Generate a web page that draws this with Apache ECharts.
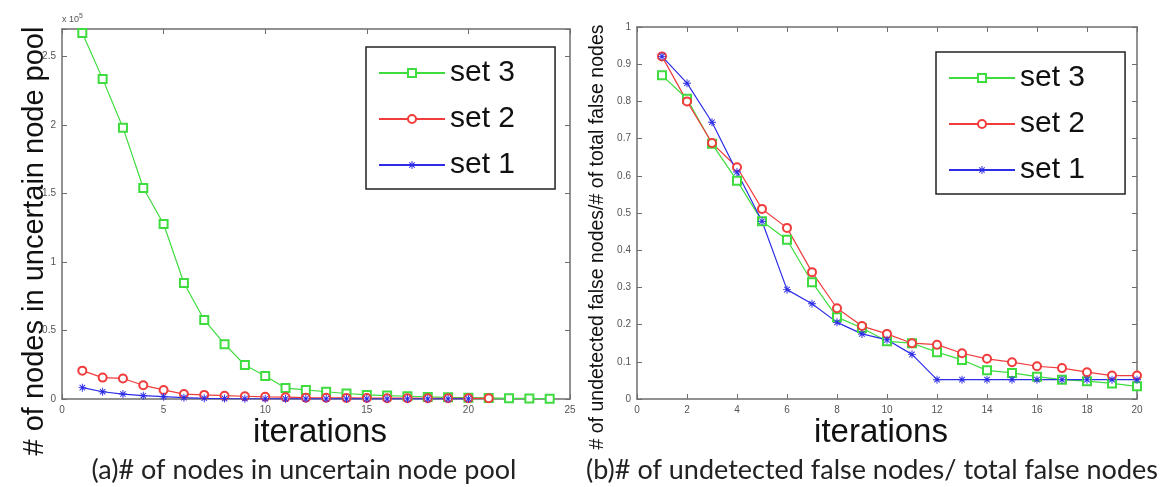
<!DOCTYPE html>
<html><head><meta charset="utf-8">
<script src="https://cdn.jsdelivr.net/npm/echarts@6/dist/echarts.min.js"></script>
<style>html,body{margin:0;padding:0;background:#fff}#c{width:1170px;height:487px}</style>
</head><body><div id="c"></div>
<script>
// ---- data (a): nodes in uncertain node pool ----
const iterA3 = [1,2,3,4,5,6,7,8,9,10,11,12,13,14,15,16,17,18,19,20,21,22,23,24];
const iterA2 = [1,2,3,4,5,6,7,8,9,10,11,12,13,14,15,16,17,18,19,20,21];
const iterA1 = [1,2,3,4,5,6,7,8,9,10,11,12,13,14,15,16,17,18,19,20];
const set3A = [267000,233600,198000,154000,127700,84700,57700,40000,24800,16800,8000,6600,5300,4000,3000,2500,2000,1500,1200,1000,800,500,400,200];
const set2A = [20700,15600,15000,10000,6600,3600,3000,2400,2000,1600,1300,1000,900,800,700,600,600,500,500,500,500];
const set1A = [8300,5300,3600,2400,1700,1000,500,300,200,200,100,100,100,100,100,100,100,100,100,100];
// ---- data (b): undetected false nodes / total false nodes ----
const iterB = [1,2,3,4,5,6,7,8,9,10,11,12,13,14,15,16,17,18,19,20];
const set3B = [0.87,0.807,0.686,0.587,0.478,0.428,0.314,0.22,0.191,0.155,0.15,0.126,0.105,0.077,0.07,0.06,0.052,0.048,0.042,0.034];
const set2B = [0.921,0.80,0.688,0.623,0.511,0.46,0.341,0.244,0.196,0.175,0.15,0.146,0.123,0.108,0.099,0.088,0.083,0.072,0.063,0.063];
const set1B = [0.921,0.849,0.744,0.61,0.478,0.294,0.256,0.206,0.175,0.159,0.12,0.052,0.052,0.052,0.052,0.052,0.052,0.052,0.052,0.052];
const seriesNames = ['set 3','set 2','set 1'];
const yTicksA = ['0','0.5','1','1.5','2','2.5'];

const GREEN='#3fdc3f', RED='#f03c3c', BLUE='#2d2de8';
const STAR='path://M4.4,0H5.6V10H4.4Z M0,4.4H10V5.6H0Z M1.2,2.05L2.05,1.2L8.8,7.95L7.95,8.8Z M7.95,1.2L8.8,2.05L2.05,8.8L1.2,7.95Z';
const zip=(xs,ys)=>xs.map((x,i)=>[x,ys[i]]);
const axisGray='#6e6e6e';
function mkX(grid,max,interval,top){
  return {type:'value',gridIndex:grid,min:0,max:max,interval:interval,position:top?'top':'bottom',
    axisLine:{show:true,onZero:false,lineStyle:{color:axisGray,width:1.5}},
    axisTick:{show:true,inside:true,length:5,lineStyle:{color:axisGray}},
    axisLabel:{show:!top,color:'#555',fontSize:10,fontFamily:'Liberation Sans',margin:6},
    splitLine:{show:false}};
}
function mkY(grid,max,interval,right,fmt){
  return {type:'value',gridIndex:grid,min:0,max:max,interval:interval,position:right?'right':'left',
    axisLine:{show:true,onZero:false,lineStyle:{color:axisGray,width:1.5}},
    axisTick:{show:true,inside:true,length:5,lineStyle:{color:axisGray}},
    axisLabel:{show:!right,color:'#555',fontSize:10,fontFamily:'Liberation Sans',margin:6,formatter:fmt},
    splitLine:{show:false}};
}
function ser(name,data,xi,yi,color,sym){
  const star = sym===STAR;
  return {type:'line',name:name,data:data,xAxisIndex:xi,yAxisIndex:yi,symbol:sym,symbolSize:star?8:8,
    showAllSymbol:true,color:color,lineStyle:{color:color,width:1.2},
    itemStyle:{color:color,borderColor:color,borderWidth:star?0:1},
    emphasis:{disabled:true},animation:false};
}
const fmtA = v => { const k=Math.round(v/50000); return (Math.abs(v-k*50000)<1 && k<yTicksA.length)?yTicksA[k]:''; };
const fmtB = v => { const r=Math.round(v*10)/10; return Math.abs(v-r)<1e-6 ? String(r) : ''; };
const legendCommon = {orient:'vertical',itemWidth:66,itemHeight:10,itemGap:16,
  borderColor:'#222',borderWidth:1.5,backgroundColor:'#fff',
  textStyle:{fontSize:30,fontFamily:'Liberation Sans',color:'#111'},
  padding:[11,40,9,12],data:seriesNames};
const option = {
  backgroundColor:'#fff',
  animation:false,
  grid:[{left:62,top:29,width:508,height:370},{left:637,top:27,width:500,height:372}],
  xAxis:[mkX(0,25,5,false),mkX(0,25,5,true),mkX(1,20,2,false),mkX(1,20,2,true)],
  yAxis:[mkY(0,270000,50000,false,fmtA),mkY(0,270000,50000,true,fmtA),mkY(1,1,0.1,false,fmtB),mkY(1,1,0.1,true,fmtB)],
  legend:[Object.assign({left:366,top:47},legendCommon),Object.assign({left:936,top:52},legendCommon)],
  series:[
    ser('set 3',zip(iterA3,set3A),0,0,GREEN,'emptyRect'),
    ser('set 2',zip(iterA2,set2A),0,0,RED,'emptyCircle'),
    ser('set 1',zip(iterA1,set1A),0,0,BLUE,STAR),
    ser('set 3',zip(iterB,set3B),2,2,GREEN,'emptyRect'),
    ser('set 2',zip(iterB,set2B),2,2,RED,'emptyCircle'),
    ser('set 1',zip(iterB,set1B),2,2,BLUE,STAR)
  ],
  graphic:[
    {type:'text',left:62,top:13,style:{text:'x 10{s|5}',fill:'#555',font:'9px Liberation Sans',rich:{s:{fontSize:7,verticalAlign:'top',padding:[0,0,6,0]}}}},
    {type:'text',x:35,y:241,rotation:Math.PI/2,style:{text:'# of nodes in uncertain node pool',fill:'#111',font:'29px Liberation Sans',align:'center',verticalAlign:'middle'}},
    {type:'text',x:598,y:237,rotation:Math.PI/2,style:{text:'# of undetected false nodes/# of total false nodes',fill:'#111',font:'19.5px Liberation Sans',align:'center',verticalAlign:'middle'}},
    {type:'text',x:320,y:433,style:{text:'iterations',fill:'#111',font:'33px Liberation Sans',align:'center',verticalAlign:'middle'}},
    {type:'text',x:881,y:433,style:{text:'iterations',fill:'#111',font:'33px Liberation Sans',align:'center',verticalAlign:'middle'}},
    {type:'text',x:304,y:470,style:{text:'(a)# of nodes in uncertain node pool',fill:'#222',font:'27px Lato',align:'center',verticalAlign:'middle'}},
    {type:'text',x:872,y:470,style:{text:'(b)# of undetected false nodes/ total false nodes',fill:'#222',font:'27px Lato',align:'center',verticalAlign:'middle'}}
  ]
};
const chart = echarts.init(document.getElementById('c'),null,{renderer:'canvas'});
chart.setOption(option);
</script></body></html>
